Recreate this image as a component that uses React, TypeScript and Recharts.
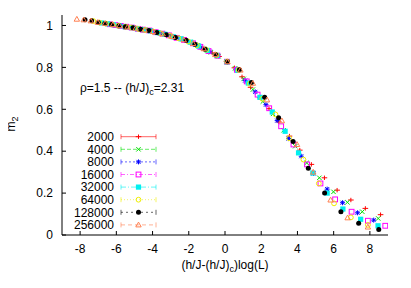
import React from "react";
import { ScatterChart, Scatter, XAxis, YAxis, Legend } from "recharts";

const X_TICKS = [-8, -6, -4, -2, 0, 2, 4, 6, 8];
const Y_TICKS = [0, 0.2, 0.4, 0.6, 0.8, 1];

// values, one x/y pair of arrays per system size
const x2000 = [-4.99, -4.76, -4.52, -4.29, -4.04, -3.78, -3.56, -3.28, -3.01, -2.71, -2.43, -2.1, -1.77, -1.39, -1.07, -0.71, -0.33, 0.08, 0.52, 0.94, 1.41, 1.92, 2.43, 2.97, 3.56, 4.13, 4.77, 5.49, 6.19, 6.95, 7.75, 8.59];
const y2000 = [0.987, 0.984, 0.98, 0.977, 0.973, 0.967, 0.963, 0.957, 0.95, 0.942, 0.936, 0.927, 0.915, 0.899, 0.885, 0.869, 0.852, 0.829, 0.798, 0.755, 0.705, 0.655, 0.603, 0.54, 0.472, 0.405, 0.337, 0.273, 0.214, 0.167, 0.127, 0.097];

const x4000 = [-5.45, -5.19, -4.93, -4.68, -4.41, -4.12, -3.88, -3.58, -3.28, -2.96, -2.65, -2.29, -1.93, -1.52, -1.17, -0.78, -0.36, 0.09, 0.56, 1.03, 1.54, 2.09, 2.65, 3.24, 3.88, 4.51, 5.21, 5.99, 6.76, 7.58, 8.46];
const y4000 = [0.993, 0.99, 0.987, 0.982, 0.979, 0.974, 0.969, 0.963, 0.957, 0.949, 0.941, 0.932, 0.921, 0.904, 0.889, 0.872, 0.853, 0.829, 0.795, 0.745, 0.694, 0.637, 0.578, 0.5, 0.424, 0.344, 0.273, 0.206, 0.156, 0.111, 0.079];

const x8000 = [-5.9, -5.63, -5.35, -5.07, -4.78, -4.47, -4.21, -3.88, -3.56, -3.21, -2.88, -2.48, -2.09, -1.64, -1.27, -0.84, -0.39, 0.1, 0.61, 1.11, 1.67, 2.26, 2.88, 3.51, 4.21, 4.89, 5.64, 6.49, 7.32, 8.21];
const y8000 = [0.999, 0.996, 0.992, 0.989, 0.984, 0.98, 0.976, 0.969, 0.962, 0.955, 0.946, 0.937, 0.926, 0.909, 0.893, 0.875, 0.855, 0.828, 0.792, 0.737, 0.683, 0.622, 0.546, 0.46, 0.376, 0.294, 0.219, 0.154, 0.106, 0.071];

const x16000 = [-6.36, -6.06, -5.76, -5.46, -5.15, -4.81, -4.53, -4.18, -3.83, -3.46, -3.1, -2.67, -2.26, -1.77, -1.36, -0.91, -0.42, 0.11, 0.66, 1.2, 1.8, 2.44, 3.1, 3.78, 4.53, 5.27, 6.08, 6.99, 7.89, 8.85];
const y16000 = [1.006, 1.002, 0.998, 0.994, 0.99, 0.984, 0.98, 0.976, 0.968, 0.961, 0.953, 0.941, 0.931, 0.915, 0.898, 0.878, 0.856, 0.827, 0.788, 0.733, 0.67, 0.605, 0.519, 0.432, 0.337, 0.246, 0.17, 0.111, 0.068, 0.044];

const x32000 = [-6.81, -6.49, -6.17, -5.85, -5.52, -5.16, -4.85, -4.48, -4.11, -3.7, -3.32, -2.86, -2.42, -1.9, -1.46, -0.98, -0.45, 0.11, 0.71, 1.29, 1.93, 2.61, 3.32, 4.06, 4.85, 5.64, 6.51, 7.49, 8.45];
const y32000 = [1.012, 1.008, 1.004, 0.999, 0.994, 0.99, 0.985, 0.98, 0.974, 0.966, 0.958, 0.946, 0.936, 0.92, 0.902, 0.881, 0.857, 0.826, 0.786, 0.725, 0.657, 0.587, 0.495, 0.392, 0.296, 0.2, 0.124, 0.075, 0.044];

const x64000 = [-7.27, -6.93, -6.58, -6.24, -5.89, -5.5, -5.18, -4.78, -4.38, -3.95, -3.54, -3.05, -2.58, -2.03, -1.56, -1.04, -0.48, 0.12, 0.75, 1.37, 2.06, 2.79, 3.54, 4.33, 5.18, 6.02, 6.95, 7.89];
const y64000 = [1.021, 1.014, 1.009, 1.005, 0.999, 0.994, 0.99, 0.983, 0.978, 0.97, 0.962, 0.951, 0.939, 0.924, 0.906, 0.884, 0.859, 0.828, 0.788, 0.722, 0.65, 0.575, 0.462, 0.36, 0.246, 0.151, 0.084, 0.048];

const x128000 = [-7.73, -7.36, -7.0, -6.63, -6.26, -5.85, -5.5, -5.08, -4.66, -4.2, -3.76, -3.25, -2.74, -2.15, -1.66, -1.1, -0.51, 0.13, 0.8, 1.46, 2.19, 2.96, 3.76, 4.6, 5.5, 6.4, 7.38, 8.49];
const y128000 = [1.027, 1.022, 1.014, 1.01, 1.005, 0.999, 0.994, 0.989, 0.982, 0.976, 0.967, 0.956, 0.943, 0.929, 0.91, 0.886, 0.86, 0.827, 0.789, 0.728, 0.657, 0.56, 0.446, 0.318, 0.2, 0.111, 0.056, 0.026];

const x256000 = [-8.18, -7.8, -7.41, -7.02, -6.62, -6.19, -5.83, -5.38, -4.93, -4.45, -3.98, -3.44, -2.9, -2.28, -1.76, -1.17, -0.54, 0.14, 0.85, 1.54, 2.32, 3.14, 3.98, 4.87, 5.83, 6.77, 7.89];
const y256000 = [1.03, 1.027, 1.022, 1.015, 1.01, 1.004, 0.999, 0.993, 0.987, 0.979, 0.971, 0.96, 0.947, 0.932, 0.914, 0.889, 0.861, 0.827, 0.787, 0.724, 0.645, 0.545, 0.432, 0.3, 0.167, 0.082, 0.038];

const zip = (xs: number[], ys: number[]) => xs.map((x, i) => ({ x, y: ys[i] }));

type Kind = "plus" | "cross" | "star" | "box" | "boxF" | "circle" | "circleF" | "tri";

const SERIES: { name: string; color: string; dash: string; kind: Kind; data: { x: number; y: number }[] }[] = [
  { name: "2000", color: "#ff0000", dash: "", kind: "plus", data: zip(x2000, y2000) },
  { name: "4000", color: "#00e000", dash: "4 2", kind: "cross", data: zip(x4000, y4000) },
  { name: "8000", color: "#0000ff", dash: "2 2", kind: "star", data: zip(x8000, y8000) },
  { name: "16000", color: "#ff00ff", dash: "4 2 1 2", kind: "box", data: zip(x16000, y16000) },
  { name: "32000", color: "#00f0f0", dash: "5 2 1 2", kind: "boxF", data: zip(x32000, y32000) },
  { name: "64000", color: "#eeee00", dash: "1 2", kind: "circle", data: zip(x64000, y64000) },
  { name: "128000", color: "#000000", dash: "2 3", kind: "circleF", data: zip(x128000, y128000) },
  { name: "256000", color: "#ff7f50", dash: "4 3", kind: "tri", data: zip(x256000, y256000) },
];

const FONT = "'Liberation Sans', Arial, sans-serif";

const Glyph = ({ kind, cx, cy, color }: { kind: Kind; cx: number; cy: number; color: string }) => {
  switch (kind) {
    case "plus":
      return (
        <g stroke={color} strokeWidth={1}>
          <line x1={cx - 2.8} y1={cy} x2={cx + 2.8} y2={cy} />
          <line x1={cx} y1={cy - 2.2} x2={cx} y2={cy + 2.2} />
        </g>
      );
    case "cross":
      return (
        <g stroke={color} strokeWidth={1}>
          <line x1={cx - 2.2} y1={cy - 2.2} x2={cx + 2.2} y2={cy + 2.2} />
          <line x1={cx - 2.2} y1={cy + 2.2} x2={cx + 2.2} y2={cy - 2.2} />
        </g>
      );
    case "star":
      return (
        <g stroke={color} strokeWidth={1}>
          <line x1={cx - 2.5} y1={cy} x2={cx + 2.5} y2={cy} />
          <line x1={cx} y1={cy - 2.5} x2={cx} y2={cy + 2.5} />
          <line x1={cx - 2} y1={cy - 2} x2={cx + 2} y2={cy + 2} />
          <line x1={cx - 2} y1={cy + 2} x2={cx + 2} y2={cy - 2} />
        </g>
      );
    case "box":
      return <rect x={cx - 2.4} y={cy - 2.4} width={4.8} height={4.8} fill="none" stroke={color} strokeWidth={1} />;
    case "boxF":
      return <rect x={cx - 2.6} y={cy - 2.6} width={5.2} height={5.2} fill={color} />;
    case "circle":
      return <circle cx={cx} cy={cy} r={2.4} fill="none" stroke={color} strokeWidth={1} />;
    case "circleF":
      return <circle cx={cx} cy={cy} r={2.5} fill={color} />;
    case "tri":
      return (
        <polygon
          points={`${cx},${cy - 2.8} ${cx - 2.7},${cy + 2} ${cx + 2.7},${cy + 2}`}
          fill="none"
          stroke={color}
          strokeWidth={1}
        />
      );
  }
  return null;
};

const LegendBox = () => (
  <svg width={110} height={106} style={{ display: "block", fontFamily: FONT }}>
    {SERIES.map((s, i) => {
      const cy = 8.7 + 12.6 * i;
      return (
        <g key={s.name}>
          <text x={46} y={cy + 4.3} textAnchor="end" fontSize={12} fill="#000">
            {s.name}
          </text>
          <line x1={53} y1={cy} x2={88} y2={cy} stroke={s.color} strokeOpacity={0.6} strokeDasharray={s.dash} strokeWidth={1} />
          <line x1={53} y1={cy - 2.5} x2={53} y2={cy + 2.5} stroke={s.color} strokeOpacity={0.6} strokeWidth={1} />
          <line x1={88} y1={cy - 2.5} x2={88} y2={cy + 2.5} stroke={s.color} strokeOpacity={0.6} strokeWidth={1} />
          <Glyph kind={s.kind} cx={70.5} cy={cy} color={s.color} />
        </g>
      );
    })}
  </svg>
);

const tickStyle = { fontSize: 12, fill: "#000", fontFamily: FONT };
const lineStyle = { stroke: "#000", strokeWidth: 1 };

export default function App() {
  return (
    <div style={{ margin: "-8px 0 0 -8px", width: 411, height: 288 }}>
      <ScatterChart width={411} height={288} margin={{ top: 15, right: 23, bottom: 0, left: 0 }}>
        <XAxis
          type="number"
          dataKey="x"
          domain={[-9, 9]}
          allowDataOverflow
          ticks={X_TICKS}
          interval={0}
          height={53}
          tickSize={-4}
          tickMargin={13}
          tick={tickStyle}
          axisLine={lineStyle}
          tickLine={lineStyle}
        />
        <XAxis
          xAxisId="top"
          orientation="top"
          type="number"
          domain={[-9, 9]}
          allowDataOverflow
          ticks={X_TICKS}
          interval={0}
          height={0}
          tickSize={-4}
          tick={false}
          axisLine={lineStyle}
          tickLine={lineStyle}
        />
        <YAxis
          type="number"
          dataKey="y"
          domain={[0, 1.05]}
          allowDataOverflow
          ticks={Y_TICKS}
          interval={0}
          width={62}
          tickSize={-4}
          tickMargin={13}
          tick={tickStyle}
          axisLine={lineStyle}
          tickLine={lineStyle}
        />
        <YAxis
          yAxisId="right"
          orientation="right"
          type="number"
          domain={[0, 1.05]}
          allowDataOverflow
          ticks={Y_TICKS}
          interval={0}
          width={0}
          tickSize={-4}
          tick={false}
          axisLine={lineStyle}
          tickLine={lineStyle}
        />
        {SERIES.map((s) => (
          <Scatter
            key={s.name}
            name={s.name}
            data={s.data}
            fill={s.color}
            isAnimationActive={false}
            shape={(p: any) => <Glyph kind={s.kind} cx={p.cx} cy={p.cy} color={s.color} />}
          />
        ))}
        <Legend
          layout="vertical"
          verticalAlign="middle"
          align="center"
          wrapperStyle={{ left: 68, top: 128, width: 110, height: 106 }}
          content={() => <LegendBox />}
        />
        <text x={80} y={92} fontSize={12} fontFamily={FONT} fill="#000">
          ρ=1.5 -- (h/J)
          <tspan dy={3} fontSize={9}>c</tspan>
          <tspan dy={-3}>=2.31</tspan>
        </text>
        <text x={225} y={269} fontSize={12} fontFamily={FONT} fill="#000" textAnchor="middle">
          (h/J-(h/J)
          <tspan dy={3} fontSize={9}>c</tspan>
          <tspan dy={-3}>)log(L)</tspan>
        </text>
        <text x={15} y={124} fontSize={12} fontFamily={FONT} fill="#000" textAnchor="middle" transform="rotate(-90 15 124)">
          m
          <tspan dy={3} fontSize={9}>2</tspan>
        </text>
      </ScatterChart>
    </div>
  );
}
